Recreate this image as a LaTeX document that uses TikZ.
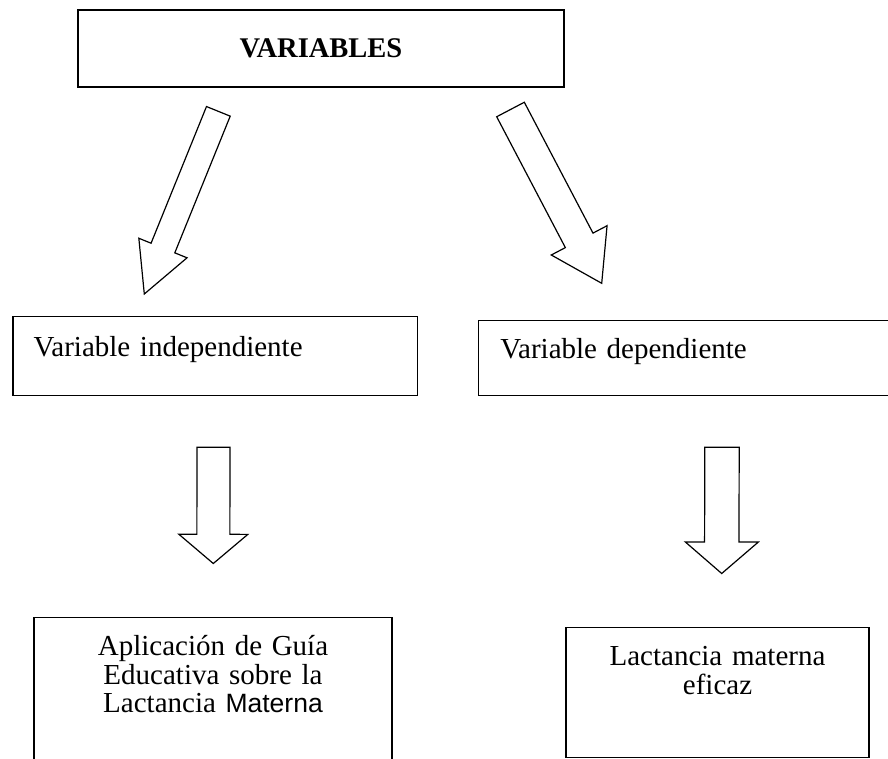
\documentclass[tikz,border=0pt]{standalone}
\usepackage{fontspec}
\setmainfont{Liberation Serif}
\newfontfamily\arialfont{Liberation Sans}
\usepackage{tikz}
\usetikzlibrary{calc}
\usetikzlibrary{positioning}
\tikzset{>=latex}
\tikzstyle{caja} = [rectangle, draw=black, line width=1.4pt, inner sep=0pt, font=\fontsize{29}{28.5}\selectfont]
\tikzstyle{flecha} = [draw=black, line width=1.2pt, line join=miter]
\newcommand{\hollowarrow}[5]{%
  \coordinate (HB) at ($(#2)!#5pt!(#1)$);
  \draw [flecha] ($(#1)!#3pt!90:(#2)$) -- ($(HB)!#3pt!90:(#2)$) -- ($(HB)!#4pt!90:(#2)$)
    -- (#2) -- ($(HB)!#4pt!-90:(#2)$) -- ($(HB)!#3pt!-90:(#2)$) -- ($(#1)!#3pt!-90:(#2)$) -- cycle;}

\begin{document}
\begin{tikzpicture}[x=1pt, y=-1pt]
\useasboundingbox (0,0) rectangle (888,759);
\clip (0,0) rectangle (888,759);
\node [caja, minimum width=486pt, minimum height=77pt, text height=25pt, text depth=6pt, font=\fontsize{28.5}{30}\selectfont\bfseries] (V) at (321,48.5) {VARIABLES};
\node [caja, anchor=north west, minimum width=404.4pt, minimum height=79.3pt, inner xsep=20.7pt, text width=363pt, align=left, text height=10pt, text depth=10pt] (VI) at (12.3,315.7) {Variable independiente};
\node [caja, anchor=north west, minimum width=417pt, minimum height=75pt, inner xsep=21.7pt, text width=373.6pt, align=left, text height=10pt, text depth=10pt] (VD) at (478,320) {Variable dependiente};
\node [caja, anchor=north, text width=358pt, align=center, text height=38.5pt, text depth=150pt] (GE) at (213,616.5) {Aplicación de Guía\\Educativa sobre la\\Lactancia {\arialfont\fontsize{26.5}{28.5}\selectfont Materna}};
\node [caja, anchor=north, text width=303pt, align=center, text height=38pt, text depth=92pt] (LM) at (717.5,627) {Lactancia materna\\eficaz};
\coordinate (T1) at (218.35,111.35);
\coordinate (P1) at (144.3,294);
\coordinate (T2) at (510.5,109.5);
\coordinate (P2) at (601.7,283.3);
\coordinate (T3) at (213.5,447.3);
\coordinate (P3) at (213.3,563.5);
\coordinate (T4) at (722,447.3);
\coordinate (P4) at (721.7,573.5);
\hollowarrow{T1}{P1}{12.8}{26}{49.6}
\hollowarrow{T2}{P2}{15.6}{31.5}{48.5}
\hollowarrow{T3}{P3}{16.5}{34.5}{29.2}
\hollowarrow{T4}{P4}{17.2}{36.5}{31.5}
\end{tikzpicture}
\end{document}
